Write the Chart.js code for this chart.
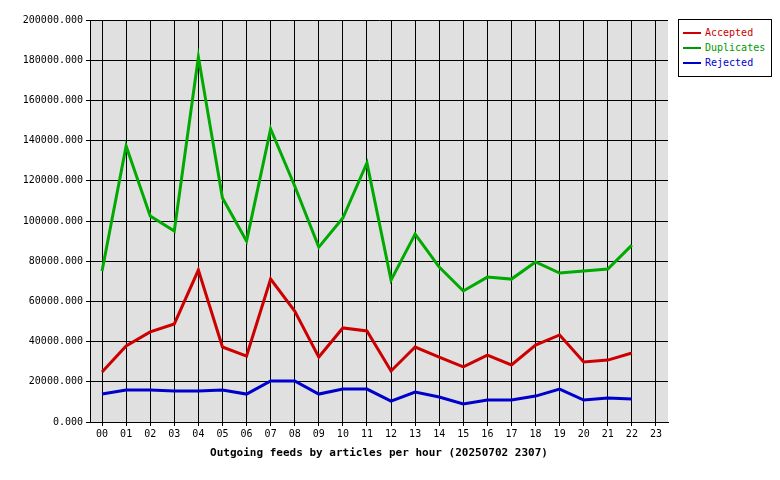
<!DOCTYPE html>
<html><head><script src="https://cdn.jsdelivr.net/npm/chart.js@4/dist/chart.umd.min.js"></script>
<style>body{margin:0;background:#fff}#w{position:relative;width:780px;height:480px}
#lg{position:absolute;left:678px;top:19px;width:92px;height:51px;border:1px solid #000;background:#fff;font:10px "DejaVu Sans Mono",monospace;padding-top:5px}
#lg div{position:relative;height:15px;line-height:15px;padding-left:26px}
#lg span{position:absolute;left:4px;top:7px;width:18px;height:2px}
</style></head><body><div id="w"><canvas id="c" width="780" height="480"></canvas>
<div id="lg"><div style="color:#c00"><span style="background:#c00"></span>Accepted</div><div style="color:#090"><span style="background:#090"></span>Duplicates</div><div style="color:#00c"><span style="background:#00c"></span>Rejected</div></div></div>
<script>
const hours=["00","01","02","03","04","05","06","07","08","09","10","11","12","13","14","15","16","17","18","19","20","21","22","23"];
const accepted=[24900,37800,44800,48800,75600,37300,32800,71100,55200,32300,46800,45300,25400,37300,32300,27400,33300,28400,38300,43300,29900,30800,34300,null];
const duplicates=[75100,137300,102500,95000,181600,111400,90000,145800,117400,87000,101500,128900,70600,93500,77100,65200,72100,71100,79600,74100,75100,76100,88000,null];
const rejected=[13900,15900,15900,15400,15400,15900,13900,20400,20400,13900,16400,16400,10400,14900,12400,9000,10900,10900,12900,16400,10900,11900,11400,null];
const font={family:"DejaVu Sans Mono",size:10};
const bg={id:'bg',beforeDraw(c){const a=c.chartArea,x=c.ctx;x.save();x.fillStyle='#e0e0e0';x.fillRect(a.left,a.top,a.right-a.left,a.bottom-a.top);x.restore();}};
const ds=(l,d,c)=>({label:l,data:d,borderColor:c,backgroundColor:c,borderWidth:3,pointRadius:0,tension:0});
new Chart(document.getElementById('c'),{type:'line',data:{labels:hours,datasets:[ds('Accepted',accepted,'#cc0000'),ds('Duplicates',duplicates,'#00aa00'),ds('Rejected',rejected,'#0000cc')]},
options:{responsive:false,animation:false,layout:{padding:{left:0,right:112,top:20,bottom:0}},
plugins:{legend:{display:false},tooltip:{enabled:false}},
scales:{x:{offset:true,grid:{color:'#000',offset:false,drawTicks:true,tickLength:4},border:{color:'#000'},ticks:{color:'#000',font,maxRotation:0,autoSkip:false,padding:2},
title:{display:true,text:'Outgoing feeds by articles per hour (20250702 2307)',color:'#000',font:{family:"DejaVu Sans Mono",size:11,weight:'bold'},padding:{top:4,bottom:20}},
afterFit(s){s.height=58;}},
y:{min:0,max:200000,grid:{color:'#000',tickLength:4},border:{color:'#000'},ticks:{stepSize:20000,color:'#000',font,callback:v=>v.toFixed(3)},afterFit(s){s.width=90;}}}},plugins:[bg]});
</script></body></html>
